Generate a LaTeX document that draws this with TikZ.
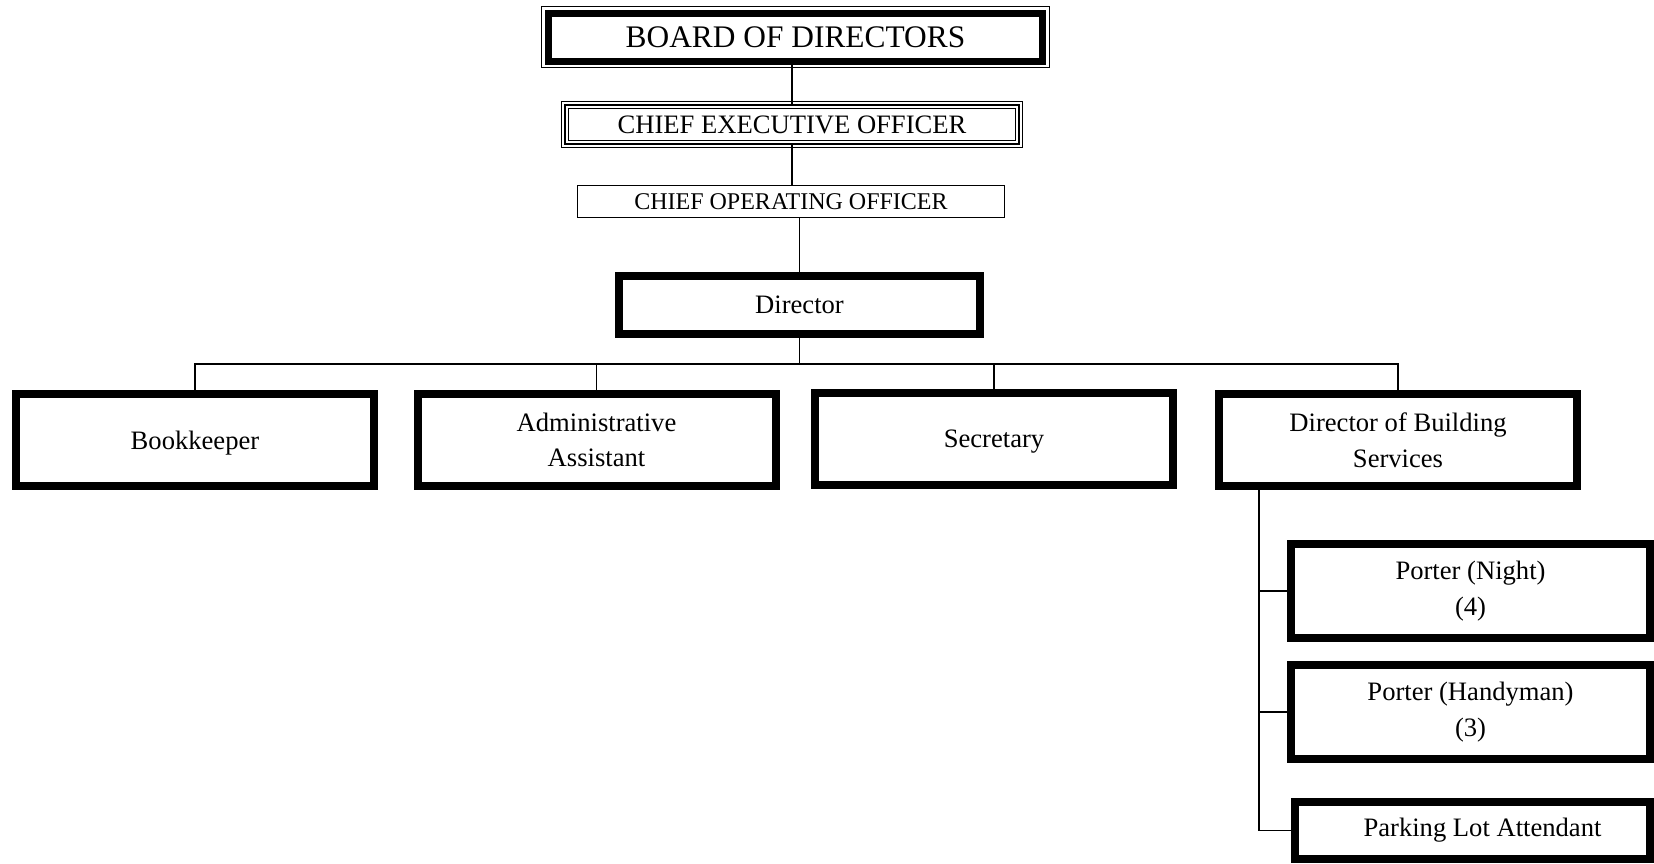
\documentclass[tikz,border=0pt]{standalone}
\usepackage{fontspec}
\setmainfont{Liberation Serif}
\usepackage{tikz}
\usetikzlibrary{shapes.geometric, arrows}
\usetikzlibrary{positioning}
\tikzstyle{boardbox} = [rectangle, minimum width=247pt, minimum height=24pt, text centered, draw=black, line width=3.5pt, outer sep=0pt, font=\fontsize{15.7}{18}\selectfont]
\tikzstyle{ceobox} = [rectangle, minimum width=227pt, minimum height=19.5pt, text centered, draw=black, line width=1pt, outer sep=0pt, font=\fontsize{13.3}{16}\selectfont]
\tikzstyle{coobox} = [rectangle, minimum width=213.5pt, minimum height=16pt, text centered, draw=black, line width=0.75pt, outer sep=0pt, font=\fontsize{12}{14}\selectfont]
\tikzstyle{heavybox} = [rectangle, minimum width=179pt, minimum height=46pt, align=center, draw=black, line width=4pt, outer sep=0pt, font=\fontsize{13.3}{17.8}\selectfont]
\tikzstyle{frame} = [line width=0.5pt]
\tikzstyle{link} = [line width=0.7pt]

\begin{document}
\begin{tikzpicture}[node distance = 43.75pt]
                        \useasboundingbox (0,0) rectangle (827pt,-431.5pt);
                        \node (BOD) [boardbox] at (397.75pt,-18.5pt) {BOARD OF DIRECTORS};
                        \node (CEO) [ceobox, below of=BOD, xshift=-1.75pt] {CHIEF EXECUTIVE OFFICER};
                        \node (COO) [coobox, node distance=38.5pt, below of=CEO, xshift=-0.5pt] {CHIEF OPERATING OFFICER};
                        \node (Dir) [heavybox, minimum width=180.5pt, minimum height=29pt, node distance=51.75pt, below of=COO, xshift=4.25pt] {Director};
                        \node (BK) [heavybox, text depth=0pt, node distance=67.5pt, below of=Dir, xshift=-302.25pt] {Bookkeeper};
                        \node (AA) [heavybox, node distance=67.5pt, below of=Dir, xshift=-101.5pt] {Administrative\\Assistant};
                        \node (SEC) [heavybox, text depth=0pt, node distance=67.5pt, below of=Dir, xshift=97.25pt, yshift=0.75pt] {Secretary};
                        \node (DBS) [heavybox, node distance=67.5pt, below of=Dir, xshift=299.25pt] {Director of Building\\Services};
                        \node (PN) [heavybox, minimum width=179.5pt, minimum height=47pt, node distance=75.5pt, below of=DBS, xshift=36.25pt] {Porter (Night)\\(4)};
                        \node (PH) [heavybox, minimum width=179.5pt, minimum height=47pt, node distance=60.5pt, below of=PN] {Porter (Handyman)\\(3)};
                        \node (PK) [heavybox, minimum width=177.5pt, minimum height=28.5pt, node distance=59.25pt, below of=PH, xshift=1pt] {\hspace*{10pt}Parking Lot Attendant};
                        % double frames
                        \draw [frame] ([shift={(-3.4pt,3.4pt)}]BOD.north west) rectangle ([shift={(3.4pt,-3.4pt)}]BOD.south east);
                        \draw [frame] ([shift={(-1.75pt,1.75pt)}]CEO.north west) rectangle ([shift={(1.75pt,-1.75pt)}]CEO.south east);
                        \draw [frame] ([shift={(1.75pt,-1.75pt)}]CEO.north west) rectangle ([shift={(-1.75pt,1.75pt)}]CEO.south east);
                        % connectors
                        \draw [link] (BOD.south -| CEO.north) -- (CEO.north);
                        \draw [link] (CEO.south) -- (CEO.south |- COO.north);
                        \draw [link] (Dir.north |- COO.south) -- (Dir.north);
                        \draw [link] (Dir.south) -- ++(0,-15pt) -| (BK.north);
                        \draw [link] (Dir.south) -- ++(0,-15pt) -| (AA.north);
                        \draw [link] (Dir.south) -- ++(0,-15pt) -| (SEC.north);
                        \draw [link] (Dir.south) -- ++(0,-15pt) -| (DBS.north);
                        \coordinate (trunk) at ([xshift=20pt]DBS.south west);
                        \draw [link] (trunk) |- (PN.west);
                        \draw [link] (trunk) |- (PH.west);
                        \draw [link] (trunk) |- (PK.west);
                    \end{tikzpicture}
\end{document}
